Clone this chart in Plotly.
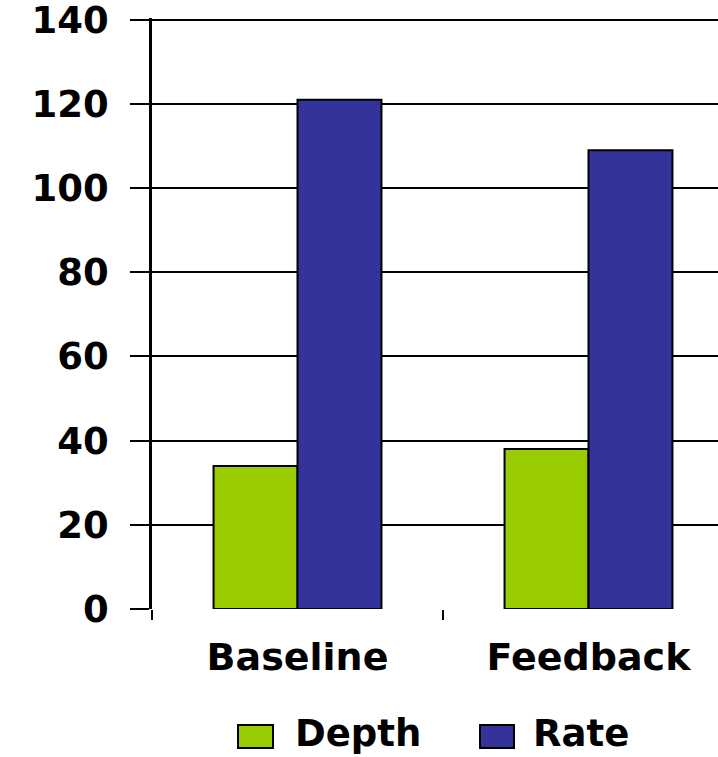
import plotly.graph_objects as go

# Data
categories = ["Baseline", "Feedback"]
series_names = ["Depth", "Rate"]
depth_values = [34, 38]
rate_values = [121, 109]
series_colors = ["#99CC00", "#333399"]
y_ticks = [0, 20, 40, 60, 80, 100, 120, 140]

W, H = 718, 757
L, R, T, B = 152, 0, 18, 148
plot_w = W - L - R
plot_h = H - T - B
y_top = 140.4


def px_x(px):
    return (px - L) / plot_w


def px_y(py):
    return (H - B - py) / plot_h


font_family = "DejaVu Sans"

fig = go.Figure()
for name, vals, col in zip(series_names, [depth_values, rate_values], series_colors):
    fig.add_trace(go.Bar(
        x=categories, y=vals, name=name,
        marker=dict(color=col, line=dict(color="#000000", width=2)),
        showlegend=False,
    ))

fig.update_layout(
    width=W, height=H,
    margin=dict(l=L, r=R, t=T, b=B),
    paper_bgcolor="white", plot_bgcolor="white",
    barmode="group", bargap=0.423, bargroupgap=0,
    font=dict(family=font_family, color="#000000"),
)

fig.update_yaxes(
    range=[0, y_top], tickvals=y_ticks,
    showgrid=True, gridcolor="#000000", gridwidth=2,
    showline=True, linecolor="#000000", linewidth=2.5,
    ticks="outside", ticklen=19, tickwidth=2, tickcolor="#000000",
    ticklabelstandoff=14, ticklabeloverflow="allow",
    tickfont=dict(family=font_family, size=37, color="#000000", weight="bold"),
    zeroline=False,
)

fig.update_xaxes(
    range=[-0.5, 1.445],
    showgrid=False, showline=False, zeroline=False,
    ticks="outside", tickson="boundaries", ticklen=10, tickwidth=2, tickcolor="#000000",
    ticklabelstandoff=22,
    tickfont=dict(family=font_family, size=38, color="#000000", weight="bold"),
)

# Legend built from shapes and text so swatches can match the wide boxes
swatch_px = [(238, 273), (480, 514)]
text_px = [293, 531]
for (x0, x1), tx, name, col in zip(swatch_px, text_px, series_names, series_colors):
    fig.add_shape(
        type="rect", xref="paper", yref="paper",
        x0=px_x(x0), x1=px_x(x1), y0=px_y(748), y1=px_y(725),
        fillcolor=col, line=dict(color="#000000", width=2),
    )
    fig.add_annotation(
        xref="paper", yref="paper", x=px_x(tx), y=px_y(733),
        xanchor="left", yanchor="middle", showarrow=False,
        text=name,
        font=dict(family=font_family, size=37, color="#000000", weight="bold"),
    )

fig.write_html("out.html")
